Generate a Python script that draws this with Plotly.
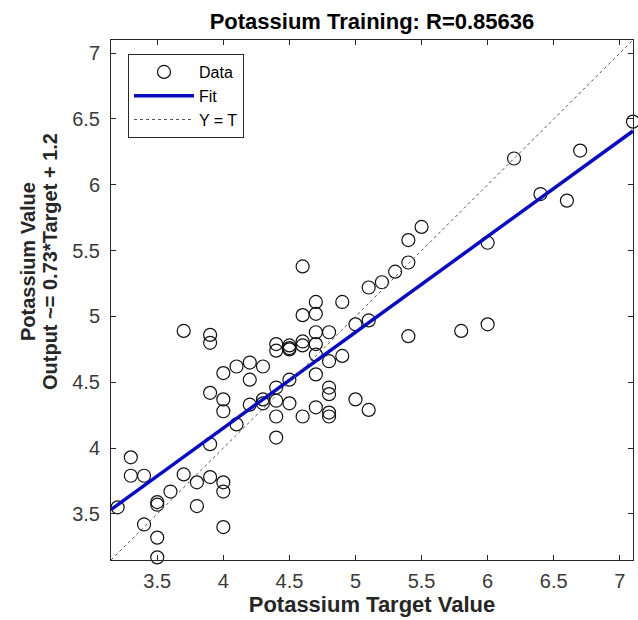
import plotly.graph_objects as go

# Data
target = [3.2, 3.3, 3.3, 3.4, 3.4, 3.5, 3.5, 3.5, 3.5, 3.6, 3.7, 3.7, 3.8, 3.8,
          3.9, 3.9, 3.9, 3.9, 3.9, 4.0, 4.0, 4.0, 4.0, 4.0, 4.0, 4.1, 4.1,
          4.2, 4.2, 4.2, 4.3, 4.3, 4.3, 4.4, 4.4, 4.4, 4.4, 4.4, 4.4,
          4.5, 4.5, 4.5, 4.5, 4.5, 4.6, 4.6, 4.6, 4.6, 4.6,
          4.7, 4.7, 4.7, 4.7, 4.7, 4.7, 4.7, 4.8, 4.8, 4.8, 4.8, 4.8, 4.8,
          4.9, 4.9, 5.0, 5.0, 5.1, 5.1, 5.1, 5.2, 5.3, 5.4, 5.4, 5.4, 5.5,
          5.8, 6.0, 6.0, 6.2, 6.4, 6.6, 6.7, 7.1]
output = [3.55, 3.93, 3.79, 3.79, 3.42, 3.59, 3.57, 3.32, 3.17, 3.67, 3.80, 4.89, 3.74, 3.56,
          3.78, 4.03, 4.42, 4.80, 4.86, 3.74, 3.67, 3.40, 4.28, 4.37, 4.57, 4.18, 4.62,
          4.65, 4.52, 4.33, 4.62, 4.37, 4.34, 4.79, 4.74, 4.46, 4.36, 4.24, 4.08,
          4.78, 4.76, 4.75, 4.52, 4.34, 5.38, 5.01, 4.81, 4.78, 4.24,
          5.11, 5.02, 4.88, 4.79, 4.71, 4.56, 4.31, 4.88, 4.66, 4.46, 4.41, 4.27, 4.24,
          5.11, 4.70, 4.94, 4.37, 5.22, 4.97, 4.29, 5.26, 5.34, 5.58, 5.41, 4.85, 5.68,
          4.89, 5.56, 4.94, 6.20, 5.93, 5.88, 6.26, 6.48]

fit_slope = 0.728
fit_intercept = 1.24
axis_limits = [3.15, 7.1]
tick_values = [3.5, 4, 4.5, 5, 5.5, 6, 6.5, 7]

title_text = "Potassium Training: R=0.85636"
x_title = "Potassium Target Value"
y_title_lines = ["Potassium Value", "Output ~= 0.73*Target + 1.2"]

FONT = "Liberation Sans, Arial, Helvetica, sans-serif"
AX = "#262626"

# plot area in pixels
L, R, T, B = 111, 5, 40, 60
W, H = 638, 620
PW, PH = W - L - R, H - T - B

fit_x = axis_limits
fit_y = [fit_slope * v + fit_intercept for v in fit_x]

fig = go.Figure()
fig.add_trace(go.Scatter(
    x=target, y=output, mode="markers", name="Data",
    marker=dict(symbol="circle-open", size=13, color="#111111", line=dict(width=1.2)),
    cliponaxis=False))
fig.add_trace(go.Scatter(
    x=fit_x, y=fit_y, mode="lines", name="Fit",
    line=dict(color="#0A0ABE", width=3.5)))
fig.add_trace(go.Scatter(
    x=axis_limits, y=axis_limits, mode="lines", name="Y = T",
    line=dict(color="#555555", width=1, dash="dot")))

axis_common = dict(
    range=axis_limits, tickvals=tick_values, ticks="inside", ticklen=5,
    tickcolor=AX, showline=True, linecolor=AX, linewidth=1, mirror="allticks",
    showgrid=False, zeroline=False,
    tickfont=dict(family=FONT, size=20, color="#3a3a3a"),
)

annotations = []
for px, line in zip([28, 50], y_title_lines):
    annotations.append(dict(
        text=line, textangle=-90, showarrow=False,
        xref="paper", yref="paper", x=(px - L) / PW, y=1 - (262 - T) / PH,
        xanchor="center", yanchor="middle",
        font=dict(family=FONT, size=20, color=AX, weight="bold")))

fig.update_layout(
    width=W, height=H,
    margin=dict(l=L, r=R, t=T, b=B),
    paper_bgcolor="white", plot_bgcolor="white",
    title=dict(text=title_text, x=(L + PW / 2) / W, xanchor="center",
               y=1 - 21 / H, yanchor="middle",
               font=dict(family=FONT, size=22, color="#000000", weight="bold")),
    xaxis=dict(**axis_common, ticklabelstandoff=3,
               title=dict(text=x_title, standoff=3,
                          font=dict(family=FONT, size=22, color=AX, weight="bold"))),
    yaxis=dict(**axis_common, ticklabelstandoff=6),
    annotations=annotations,
    legend=dict(x=(128 - L) / PW, y=1 - (54 - T) / PH, xanchor="left", yanchor="top",
                bgcolor="white", bordercolor=AX, borderwidth=1,
                font=dict(family=FONT, size=16, color="#000000"),
                tracegroupgap=0, itemwidth=60),
    showlegend=True,
)

fig.write_html("out.html")
